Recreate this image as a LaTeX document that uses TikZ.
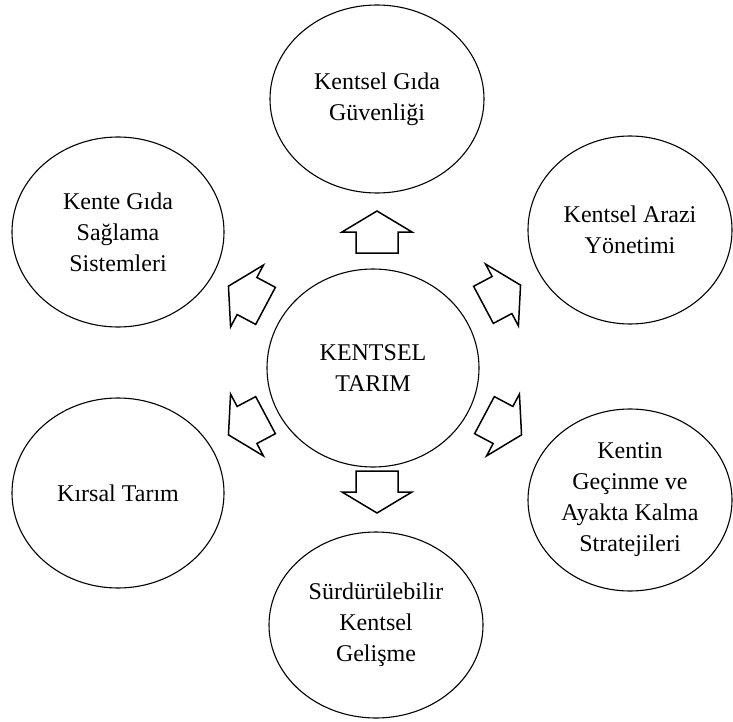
\documentclass[tikz,border=0pt]{standalone}
\usepackage{fontspec}
\setmainfont{Liberation Serif}
\usetikzlibrary{shapes.geometric}
\begin{document}
\begin{tikzpicture}[x=1pt,y=-1pt,
  bubble/.style={draw=black, line width=1.1pt, ellipse, inner sep=0pt, align=center,
    font=\fontsize{24}{31}\selectfont},
  arrowline/.style={draw=black, line width=1.5pt, fill=white, line join=miter},
  pics/blockarrow/.style={code={
    \draw[arrowline] (21,0) -- (0,35) -- (0,21) -- (-21,21) -- (-21,-21) -- (0,-21) -- (0,-35) -- cycle;}}]
\useasboundingbox (0,0) rectangle (733,722);
\node[bubble, minimum width=214pt, minimum height=188pt] (guv) at (377,99) {Kentsel Gıda\\Güvenliği};
\node[bubble, minimum width=212pt, minimum height=190pt] (sag) at (118,232) {Kente Gıda\\Sağlama\\Sistemleri};
\node[bubble, minimum width=204pt, minimum height=188pt] (arazi) at (630,230) {Kentsel Arazi\\Yönetimi};
\node[bubble, minimum width=212pt, minimum height=198pt] (tarim) at (373,368) {KENTSEL\\TARIM};
\node[bubble, minimum width=212pt, minimum height=190pt] (kirsal) at (118,493) {Kırsal Tarım};
\node[bubble, minimum width=204pt, minimum height=182pt] (gecim) at (630,500) {Kentin\\Geçinme ve\\Ayakta Kalma\\Stratejileri};
\node[bubble, minimum width=214pt, minimum height=186pt] (surd) at (376,625) {Sürdürülebilir\\Kentsel\\Gelişme};
\pic[rotate=90] at (377,232) {blockarrow};
\pic[rotate=-90] at (377,492) {blockarrow};
\pic[rotate=152] at (247,296) {blockarrow};
\pic[rotate=28] at (502,295) {blockarrow};
\pic[rotate=208] at (247,425) {blockarrow};
\pic[rotate=-28] at (503,425) {blockarrow};
\end{tikzpicture}
\end{document}
